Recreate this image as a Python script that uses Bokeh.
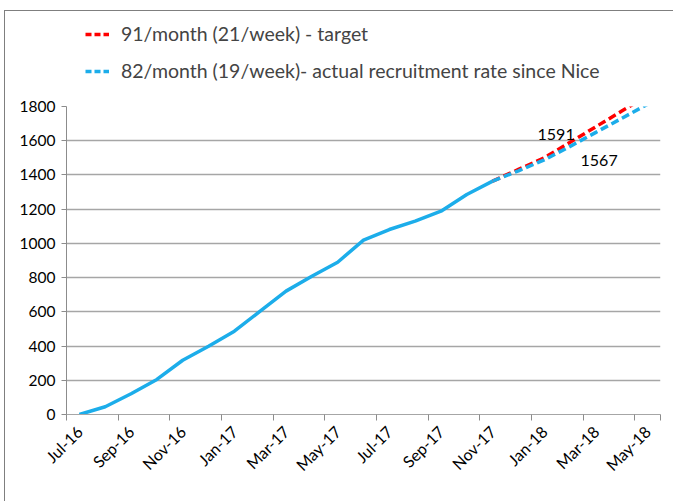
import math
from bokeh.plotting import figure
from bokeh.layouts import column
from bokeh.models import Range1d, FixedTicker, Legend, LegendItem
from bokeh.core.properties import value
from bokeh.embed import file_html
from bokeh.resources import INLINE

months = ["Jul-16", "Aug-16", "Sep-16", "Oct-16", "Nov-16", "Dec-16", "Jan-17", "Feb-17",
          "Mar-17", "Apr-17", "May-17", "Jun-17", "Jul-17", "Aug-17", "Sep-17", "Oct-17",
          "Nov-17", "Dec-17", "Jan-18", "Feb-18", "Mar-18", "Apr-18", "May-18"]
actual = [0, 45, 121, 205, 317, 399, 487, 604, 721, 808, 890, 1019, 1081, 1130, 1188, 1286, 1364]
target_proj = [1364, 1432, 1500, 1591, 1682, 1773, 1864]
rate_proj = [1364, 1424, 1488, 1567, 1649, 1731, 1813]
y_ticks = [0, 200, 400, 600, 800, 1000, 1200, 1400, 1600, 1800]
label_month = "Feb-18"
legend_labels = ["91/month (21/week) - target",
                 "82/month (19/week)- actual recruitment rate since Nice"]

FONT = "Lato"
BLUE = "#1cadea"
RED = "#ff0000"
GRID = "#a6a6a6"
BORDER = "1px solid #7f7f7f"

idx = list(range(len(months)))
proj_start = len(actual) - 1
proj_idx = idx[proj_start:]

# ---- legend strip (its lines lie outside its visible ranges; only the legend shows) ----
lg = figure(width=669, height=80, output_backend="svg", toolbar_location=None,
            x_axis_location=None, y_axis_location=None,
            x_range=Range1d(-10, -9), y_range=Range1d(-10, -9),
            min_border_left=0, min_border_right=0, min_border_top=0, min_border_bottom=0)
lg.styles = {"border-top": BORDER, "border-left": BORDER}
lg.outline_line_color = None
lg.grid.visible = False
lr = lg.line(proj_idx, target_proj, line_color=RED, line_width=3.5, line_dash="6 3")
lb = lg.line(proj_idx, rate_proj, line_color=BLUE, line_width=3.5, line_dash="6 3")
legend = Legend(items=[LegendItem(label=legend_labels[0], renderers=[lr]),
                       LegendItem(label=legend_labels[1], renderers=[lb])],
                location=(19, 9), orientation="vertical",
                label_text_font=FONT, label_text_font_size="19.5px",
                glyph_width=24, glyph_height=20, label_standoff=12, spacing=14,
                padding=0, margin=0, border_line_color=None, background_fill_alpha=0)
lg.add_layout(legend)

# ---- main chart ----
p = figure(width=669, height=411, output_backend="svg", toolbar_location=None,
           x_range=Range1d(-0.5, len(months) - 0.5), y_range=Range1d(0, 1800),
           min_border_left=61, min_border_right=14, min_border_bottom=87, min_border_top=16)
p.styles = {"border-left": BORDER}
p.outline_line_color = None

p.xaxis.ticker = FixedTicker(ticks=idx[::2], minor_ticks=[i - 0.5 for i in idx[::2]] + [len(months) - 0.5])
p.xaxis.major_label_overrides = {i: months[i] for i in idx}
p.xaxis.major_label_orientation = math.pi / 4
p.xaxis.major_tick_line_color = None
p.xaxis.minor_tick_line_color = "#8c8c8c"
p.xaxis.minor_tick_out = 6
p.xaxis.minor_tick_in = 0
p.xaxis.axis_line_color = GRID
p.xaxis.major_label_text_font = FONT
p.xaxis.major_label_text_font_size = "16px"
p.xaxis.major_label_text_color = "black"
p.xaxis.major_label_standoff = 8

p.yaxis.ticker = FixedTicker(ticks=y_ticks, minor_ticks=[])
p.yaxis.axis_line_color = "#8c8c8c"
p.yaxis.major_tick_line_color = "#8c8c8c"
p.yaxis.major_tick_out = 5
p.yaxis.major_tick_in = 0
p.yaxis.major_label_text_font = FONT
p.yaxis.major_label_text_font_size = "15.5px"
p.yaxis.major_label_text_color = "black"
p.yaxis.major_label_standoff = 6

p.xgrid.grid_line_color = None
p.ygrid.grid_line_color = GRID
p.ygrid.grid_line_width = 1.5

p.line(idx[:len(actual)], actual, line_color=BLUE, line_width=3.5)
p.line(proj_idx, target_proj, line_color=RED, line_width=3.5, line_dash="8 4")
p.line(proj_idx, rate_proj, line_color=BLUE, line_width=3.5, line_dash="8 4")

li = months.index(label_month) - proj_start
p.text([months.index(label_month)], [target_proj[li]], text=[str(target_proj[li])],
       x_offset=-14, y_offset=-8, text_align="center", text_baseline="middle",
       text_font=value(FONT), text_font_size="16px", text_color="black")
p.text([months.index(label_month)], [rate_proj[li]], text=[str(rate_proj[li])],
       x_offset=29, y_offset=14, text_align="center", text_baseline="middle",
       text_font=value(FONT), text_font_size="16px", text_color="black")

layout = column(lg, p, spacing=0)
layout.styles = {"margin-left": "4px", "margin-top": "10px"}

open("out.html", "w").write(file_html(layout, INLINE))
